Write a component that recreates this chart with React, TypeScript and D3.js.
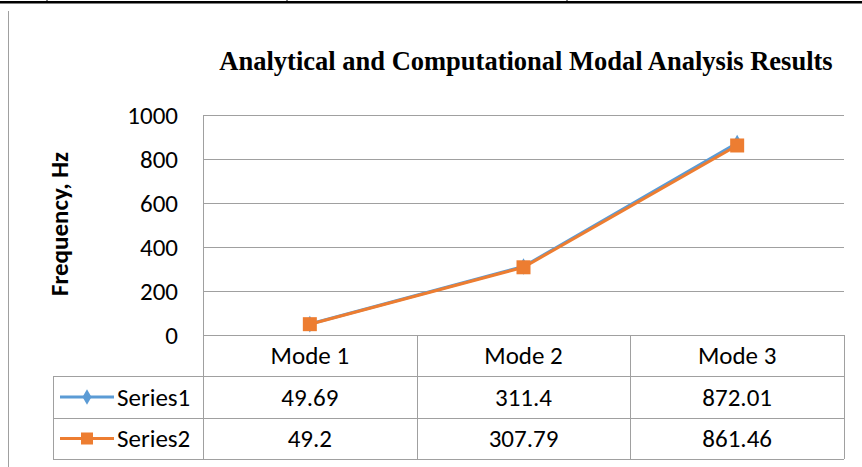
import React, { useEffect, useRef } from "react";
import * as d3 from "d3";

const categories = ["Mode 1", "Mode 2", "Mode 3"];
const seriesNames = ["Series1", "Series2"];
const series1 = [49.69, 311.4, 872.01];
const series2 = [49.2, 307.79, 861.46];
const series1Labels = ["49.69", "311.4", "872.01"];
const series2Labels = ["49.2", "307.79", "861.46"];
const yTicks = [0, 200, 400, 600, 800, 1000];

const W = 862;
const H = 467;
const BLUE = "#5B9BD5";
const ORANGE = "#ED7D31";
const GRID = "#A0A0A0";
const FONT = "Carlito, Calibri, Lato, 'Noto Sans', sans-serif";
const FS = 25;

const App: React.FC = () => {
  const ref = useRef<SVGSVGElement>(null);

  useEffect(() => {
    const svg = d3.select(ref.current);
    svg.selectAll("*").remove();

    const plot = { left: 203, right: 844, top: 115, bottom: 335 };
    const rowH = [41, 42, 41];
    const legendLeft = 53;

    // page decorations
    svg.append("rect").attr("x", 0).attr("y", 1).attr("width", W).attr("height", 2.5).attr("fill", "#000");
    [47, 287, 567].forEach((x) => {
      svg.append("line").attr("x1", x).attr("x2", x).attr("y1", 0).attr("y2", 2).attr("stroke", "#000");
    });
    svg.append("line").attr("x1", 8.5).attr("x2", 8.5).attr("y1", 11).attr("y2", H).attr("stroke", "#A0A0A0").attr("stroke-width", 1);

    // title
    svg
      .append("text")
      .attr("x", 526)
      .attr("y", 70)
      .attr("text-anchor", "middle")
      .attr("font-family", "'Liberation Serif', 'Times New Roman', serif")
      .attr("font-weight", "bold")
      .attr("font-size", 26.5)
      .text("Analytical and Computational Modal Analysis Results");

    const x = d3.scaleBand().domain(categories).range([plot.left, plot.right]);
    const y = d3.scaleLinear().domain([0, 1000]).range([plot.bottom, plot.top]);

    // gridlines
    svg
      .append("g")
      .selectAll("line")
      .data(yTicks)
      .enter()
      .append("line")
      .attr("x1", plot.left)
      .attr("x2", plot.right)
      .attr("y1", (d) => Math.round(y(d)) + 0.5)
      .attr("y2", (d) => Math.round(y(d)) + 0.5)
      .attr("stroke", GRID)
      .attr("stroke-width", 1);

    svg
      .append("line")
      .attr("x1", plot.left + 0.5)
      .attr("x2", plot.left + 0.5)
      .attr("y1", plot.top)
      .attr("y2", plot.bottom)
      .attr("stroke", GRID);

    // y tick labels
    svg
      .append("g")
      .selectAll("text")
      .data(yTicks)
      .enter()
      .append("text")
      .attr("x", 178)
      .attr("y", (d) => y(d))
      .attr("dy", "0.35em")
      .attr("text-anchor", "end")
      .attr("font-family", FONT)
      .attr("font-size", FS)
      .attr("fill", "#000")
      .text((d) => d);

    // y axis title
    svg
      .append("text")
      .attr("transform", `translate(68,224) rotate(-90)`)
      .attr("text-anchor", "middle")
      .attr("font-family", FONT)
      .attr("font-weight", "bold")
      .attr("font-size", 25)
      .text("Frequency, Hz");

    // data table
    const tTop = plot.bottom;
    const r1 = tTop + rowH[0];
    const r2 = r1 + rowH[1];
    const r3 = r2 + rowH[2];
    const tg = svg.append("g").attr("stroke", GRID).attr("stroke-width", 1).attr("fill", "none");
    [r1, r2, r3].forEach((yy) => {
      tg.append("line").attr("x1", legendLeft).attr("x2", plot.right).attr("y1", yy + 0.5).attr("y2", yy + 0.5);
    });
    tg.append("line").attr("x1", legendLeft + 0.5).attr("x2", legendLeft + 0.5).attr("y1", r1).attr("y2", r3);
    categories.forEach((c) => {
      const xx = Math.round(x(c)!) + 0.5;
      tg.append("line").attr("x1", xx).attr("x2", xx).attr("y1", tTop).attr("y2", r3);
    });
    tg.append("line").attr("x1", plot.right + 0.5).attr("x2", plot.right + 0.5).attr("y1", tTop).attr("y2", r3);

    const cx = (c: string) => x(c)! + x.bandwidth() / 2;
    const cellText = (labels: string[], yy: number) => {
      svg
        .append("g")
        .selectAll("text")
        .data(labels)
        .enter()
        .append("text")
        .attr("x", (_, i) => cx(categories[i]))
        .attr("y", yy)
        .attr("dy", "0.35em")
        .attr("text-anchor", "middle")
        .attr("font-family", FONT)
        .attr("font-size", FS)
        .text((d) => d);
    };
    cellText(categories, tTop + rowH[0] / 2);
    cellText(series1Labels, r1 + rowH[1] / 2);
    cellText(series2Labels, r2 + rowH[2] / 2);

    // legend keys in table
    const keyRows = [r1 + rowH[1] / 2, r2 + rowH[2] / 2];
    const colors = [BLUE, ORANGE];
    keyRows.forEach((yy, i) => {
      svg.append("line").attr("x1", 60).attr("x2", 114).attr("y1", yy).attr("y2", yy).attr("stroke", colors[i]).attr("stroke-width", 3);
      if (i === 0) {
        svg.append("path").attr("d", d3.symbol(d3.symbolDiamond, 70)()).attr("transform", `translate(87,${yy})`).attr("fill", BLUE);
      } else {
        svg.append("rect").attr("x", 81).attr("y", yy - 6).attr("width", 12).attr("height", 12).attr("fill", ORANGE);
      }
      svg
        .append("text")
        .attr("x", 117)
        .attr("y", yy)
        .attr("dy", "0.35em")
        .attr("font-family", FONT)
        .attr("font-size", FS)
        .text(seriesNames[i]);
    });

    // lines
    const line = d3
      .line<number>()
      .x((_, i) => cx(categories[i]))
      .y((d) => y(d));

    svg.append("path").datum(series1).attr("d", line).attr("fill", "none").attr("stroke", BLUE).attr("stroke-width", 3);
    svg
      .append("g")
      .selectAll("path")
      .data(series1)
      .enter()
      .append("path")
      .attr("d", d3.symbol(d3.symbolDiamond, 80)())
      .attr("transform", (d, i) => `translate(${cx(categories[i])},${y(d)})`)
      .attr("fill", BLUE);

    svg.append("path").datum(series2).attr("d", line).attr("fill", "none").attr("stroke", ORANGE).attr("stroke-width", 3);
    svg
      .append("g")
      .selectAll("rect")
      .data(series2)
      .enter()
      .append("rect")
      .attr("x", (_, i) => cx(categories[i]) - 7)
      .attr("y", (d) => y(d) - 7)
      .attr("width", 14)
      .attr("height", 14)
      .attr("fill", ORANGE);
  }, []);

  return (
    <svg
      ref={ref}
      width={W}
      height={H}
      style={{ position: "absolute", left: 0, top: 0, background: "#fff" }}
    />
  );
};

export default App;
